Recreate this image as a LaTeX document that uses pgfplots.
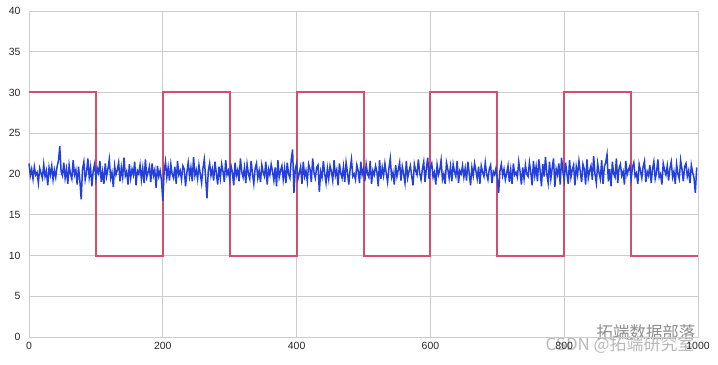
\documentclass[border=0pt]{standalone}
\usepackage{pgfplots}
\pgfplotsset{compat=1.18}
\usepackage{fontspec}
\setmainfont{Liberation Sans}
\newfontfamily\cjk{Noto Sans CJK SC}
\definecolor{gridc}{HTML}{CCCCCC}
\definecolor{labc}{HTML}{262626}
\definecolor{redl}{HTML}{D44E6D}
\definecolor{bluel}{HTML}{2340DC}
\begin{document}
\begin{tikzpicture}[x=1bp,y=1bp]
\useasboundingbox (-29,-27) rectangle (689,337);
\node[font=\cjk\fontsize{16.5}{20}\selectfont, text=black!45] at (617,5) {拓端数据部落};
\node[font=\cjk\fontsize{17}{20}\selectfont, text=black!28] at (591,-8) {CSDN @拓端研究室};
\begin{axis}[
  at={(0,0)}, anchor=south west,
  scale only axis, width=669bp, height=326bp,
  xmin=0, xmax=1000, ymin=0, ymax=40,
  xtick={0,200,400,600,800,1000},
  ytick={0,5,10,15,20,25,30,35,40},
  grid=major,
  major grid style={gridc, line width=0.8bp},
  axis line style={gridc, line width=0.8bp},
  tick style={draw=none},
  major tick length=0pt,
  /pgf/number format/assume math mode=true,
  /pgf/number format/1000 sep={},
  tick label style={font=\fontsize{10.5}{12}\selectfont, text=labc},
  yticklabel style={xshift=-5bp},
  xticklabel style={yshift=-2bp},
  clip=false,
]
\addplot[redl, line width=2bp, line join=miter] coordinates {
(0,30)(100,30)(100,10)(200,10)(200,30)(300,30)(300,10)(400,10)(400,30)(500,30)(500,10)(600,10)(600,30)(700,30)(700,10)(800,10)(800,30)(900,30)(900,10)(1000,10)};
\addplot[bluel, line width=1.5bp] coordinates {
(0,21.3)(2,19.8)(4,20.6)(6,19.4)(8,20.9)(10,19.9)(12,20.2)(14,18.9)(16,20.7)(18,20.1)(20,19.5)(22,21.2)(24,19.7)(26,20.4)(28,18.6)(30,20.8)(32,19.9)(34,21.0)(36,19.3)(38,20.5)(40,19.6)(42,20.9)(44,21.6)(46,23.4)(48,20.3)
(50,19.8)(52,21.4)(54,19.5)(56,20.6)(58,18.8)(60,21.1)(62,20.0)(64,19.4)(66,21.7)(68,19.9)(70,20.5)(72,18.7)(74,20.9)(76,19.2)(78,16.9)(80,20.6)(82,21.5)(84,19.3)(86,20.2)(88,21.9)(90,19.6)(92,20.8)(94,18.5)(96,20.4)(98,21.2)
(100,19.4)(102,20.7)(104,20.1)(106,21.6)(108,19.0)(110,20.3)(112,18.8)(114,21.3)(116,19.7)(118,20.6)(120,21.8)(122,19.5)(124,20.2)(126,18.4)(128,21.0)(130,19.9)(132,20.5)(134,21.4)(136,19.1)(138,20.8)(140,19.6)(142,22.0)(144,19.8)(146,20.3)(148,18.7)
(150,21.2)(152,19.5)(154,20.6)(156,19.9)(158,21.5)(160,18.6)(162,20.4)(164,20.0)(166,21.1)(168,19.3)(170,20.7)(172,18.9)(174,21.8)(176,19.6)(178,20.2)(180,20.9)(182,19.0)(184,21.3)(186,19.8)(188,20.5)(190,18.3)(192,21.0)(194,19.7)(196,20.4)(198,19.2)
(200,16.7)(202,20.3)(204,21.5)(206,19.6)(208,20.8)(210,19.2)(212,21.2)(214,20.0)(216,19.5)(218,20.9)(220,18.8)(222,21.6)(224,19.9)(226,20.4)(228,19.3)(230,21.0)(232,20.6)(234,18.5)(236,20.2)(238,21.4)(240,19.7)(242,20.8)(244,19.1)(246,22.1)(248,19.8)
(250,20.5)(252,19.4)(254,21.1)(256,20.0)(258,18.9)(260,20.7)(262,21.8)(264,19.6)(266,17.0)(268,20.4)(270,21.3)(272,19.8)(274,20.6)(276,19.2)(278,21.5)(280,20.1)(282,18.7)(284,20.9)(286,19.5)(288,21.2)(290,20.3)(292,19.0)(294,21.7)(296,19.9)(298,20.4)
(300,19.3)(302,21.0)(304,20.2)(306,18.6)(308,21.4)(310,19.8)(312,20.5)(314,19.1)(316,21.9)(318,20.3)(320,19.6)(322,20.8)(324,18.9)(326,21.2)(328,20.0)(330,19.4)(332,21.6)(334,20.1)(336,18.8)(338,20.7)(340,21.3)(342,19.5)(344,20.4)(346,19.0)(348,21.1)
(350,20.2)(352,19.7)(354,21.5)(356,18.7)(358,20.6)(360,19.9)(362,21.2)(364,20.3)(366,19.2)(368,20.8)(370,18.5)(372,21.7)(374,19.6)(376,20.4)(378,21.0)(380,19.3)(382,20.7)(384,18.9)(386,21.4)(388,20.0)(390,19.5)(392,21.8)(394,23.0)(396,17.7)(398,20.6)
(400,21.3)(402,19.4)(404,20.1)(406,20.9)(408,18.8)(410,21.5)(412,19.7)(414,20.4)(416,19.1)(418,21.2)(420,20.6)(422,19.0)(424,21.9)(426,20.2)(428,19.5)(430,20.8)(432,21.1)(434,17.8)(436,20.3)(438,19.6)(440,21.6)(442,20.0)(444,18.9)(446,20.7)(448,19.4)
(450,21.0)(452,20.3)(454,19.2)(456,21.7)(458,19.8)(460,20.5)(462,18.6)(464,21.3)(466,20.1)(468,19.5)(470,20.9)(472,19.0)(474,21.4)(476,20.2)(478,18.7)(480,20.6)(482,21.8)(484,19.7)(486,20.0)(488,19.3)(490,21.1)(492,20.4)(494,18.9)(496,21.5)(498,19.9)
(500,20.6)(502,19.1)(504,21.2)(506,20.0)(508,19.6)(510,21.6)(512,18.8)(514,20.4)(516,19.9)(518,21.0)(520,20.3)(522,18.5)(524,21.7)(526,19.4)(528,20.8)(530,19.8)(532,21.3)(534,20.1)(536,19.0)(538,20.7)(540,21.9)(542,19.6)(544,20.2)(546,18.7)(548,21.1)
(550,19.7)(552,20.5)(554,21.4)(556,19.2)(558,20.9)(560,20.0)(562,18.9)(564,21.6)(566,19.5)(568,20.3)(570,21.0)(572,19.8)(574,18.6)(576,21.2)(578,20.4)(580,19.9)(582,21.8)(584,20.1)(586,19.3)(588,20.6)(590,21.5)(592,19.0)(594,20.7)(596,22.0)(598,19.4)
(600,20.8)(602,21.3)(604,19.6)(606,20.2)(608,18.7)(610,21.1)(612,19.9)(614,20.5)(616,21.7)(618,19.3)(620,20.0)(622,18.8)(624,21.4)(626,20.6)(628,19.5)(630,20.9)(632,19.1)(634,21.2)(636,20.3)(638,19.7)(640,21.6)(642,18.9)(644,20.4)(646,20.0)(648,21.0)
(650,19.6)(652,20.7)(654,19.2)(656,21.5)(658,20.1)(660,18.6)(662,20.8)(664,19.8)(666,21.3)(668,20.4)(670,19.4)(672,20.9)(674,18.8)(676,21.0)(678,20.2)(680,19.7)(682,21.4)(684,20.0)(686,19.3)(688,20.6)(690,21.1)(692,18.9)(694,20.3)(696,19.9)(698,20.7)
(700,19.5)(702,17.7)(704,20.4)(706,21.2)(708,19.8)(710,20.6)(712,19.3)(714,20.1)(716,21.0)(718,19.0)(720,20.5)(722,18.8)(724,21.3)(726,19.9)(728,20.2)(730,19.6)(732,21.5)(734,20.3)(736,18.7)(738,20.8)(740,19.4)(742,21.1)(744,20.0)(746,19.7)(748,21.4)
(750,20.2)(752,18.6)(754,21.6)(756,19.8)(758,20.9)(760,19.1)(762,21.8)(764,20.4)(766,18.5)(768,21.2)(770,19.7)(772,22.1)(774,20.0)(776,18.9)(778,21.5)(780,19.4)(782,20.7)(784,21.9)(786,18.4)(788,20.6)(790,19.9)(792,21.3)(794,18.7)(796,22.0)(798,20.3)
(800,19.2)(802,21.4)(804,20.1)(806,18.8)(808,21.7)(810,19.6)(812,20.5)(814,21.1)(816,18.6)(818,20.9)(820,19.9)(822,21.6)(824,20.3)(826,19.0)(828,21.2)(830,20.6)(832,18.7)(834,21.8)(836,19.5)(838,20.4)(840,21.0)(842,19.3)(844,22.2)(846,20.0)(848,18.9)
(850,21.3)(852,20.2)(854,19.4)(856,21.7)(858,18.8)(860,20.9)(862,21.4)(864,22.4)(866,19.1)(868,20.6)(870,18.5)(872,21.5)(874,20.0)(876,19.6)(878,21.9)(880,18.9)(882,20.7)(884,21.2)(886,19.8)(888,20.3)(890,18.7)(892,21.6)(894,19.9)(896,20.5)(898,21.0)
(900,19.3)(902,20.8)(904,21.4)(906,19.7)(908,20.1)(910,18.8)(912,21.2)(914,20.4)(916,19.5)(918,20.9)(920,21.6)(922,19.0)(924,20.3)(926,19.8)(928,21.1)(930,18.9)(932,20.6)(934,21.5)(936,19.4)(938,20.2)(940,21.8)(942,19.6)(944,20.0)(946,18.7)(948,21.3)
(950,20.5)(952,19.9)(954,21.0)(956,19.2)(958,20.7)(960,21.5)(962,19.6)(964,20.3)(966,18.8)(968,21.2)(970,20.0)(972,19.4)(974,21.7)(976,20.6)(978,19.1)(980,20.9)(982,21.3)(984,19.7)(986,20.4)(988,18.9)(990,21.1)(992,20.2)(994,19.5)(996,17.7)(998,20.8)};
\end{axis}
\end{tikzpicture}
\end{document}
